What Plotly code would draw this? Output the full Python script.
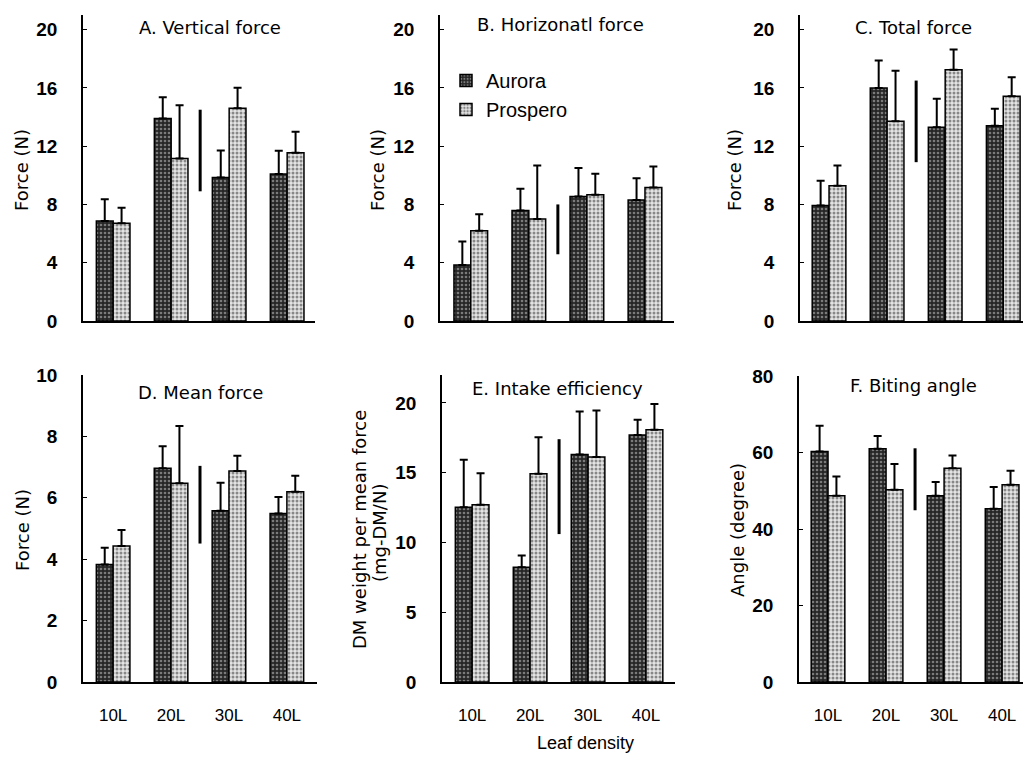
import plotly.graph_objects as go

categories = ["10L", "20L", "30L", "40L"]
x_idx = [0, 1, 2, 3]

panel_titles = ["A. Vertical force", "B. Horizonatl force", "C. Total force",
                "D. Mean force", "E. Intake efficiency", "F. Biting angle"]
y_titles = ["Force (N)", "Force (N)", "Force (N)", "Force (N)",
            "DM weight per mean force", "Angle (degree)"]
e_subtitle = "(mg-DM/N)"

# means and upper error (SD) for each panel
A_aurora = [6.86, 13.9, 9.85, 10.08]
A_aurora_sd = [1.5, 1.45, 1.85, 1.6]
A_prospero = [6.7, 11.15, 14.6, 11.54]
A_prospero_sd = [1.07, 3.65, 1.4, 1.44]
A_lsd = [8.9, 14.5]

B_aurora = [3.85, 7.58, 8.55, 8.3]
B_aurora_sd = [1.6, 1.49, 1.95, 1.5]
B_prospero = [6.2, 7.0, 8.66, 9.16]
B_prospero_sd = [1.13, 3.68, 1.44, 1.44]
B_lsd = [4.58, 8.0]

C_aurora = [7.93, 15.99, 13.3, 13.4]
C_aurora_sd = [1.69, 1.88, 1.96, 1.17]
C_prospero = [9.28, 13.7, 17.25, 15.42]
C_prospero_sd = [1.4, 3.48, 1.38, 1.3]
C_lsd = [10.9, 16.5]

D_aurora = [3.83, 6.96, 5.58, 5.49]
D_aurora_sd = [0.54, 0.72, 0.91, 0.54]
D_prospero = [4.43, 6.47, 6.87, 6.2]
D_prospero_sd = [0.52, 1.87, 0.5, 0.52]
D_lsd = [4.51, 7.04]

E_aurora = [12.53, 8.23, 16.3, 17.7]
E_aurora_sd = [3.39, 0.84, 3.08, 1.1]
E_prospero = [12.7, 14.92, 16.13, 18.07]
E_prospero_sd = [2.26, 2.62, 3.32, 1.86]
E_lsd = [10.6, 17.4]

F_aurora = [60.26, 60.96, 48.7, 45.3]
F_aurora_sd = [6.74, 3.34, 3.6, 5.66]
F_prospero = [48.7, 50.26, 55.9, 51.56]
F_prospero_sd = [5.0, 6.74, 3.3, 3.64]
F_lsd = [44.9, 61.1]

lsd_x = 1.5

y_ranges = [[0, 21], [0, 21], [0, 21], [0, 10], [0, 22], [0, 80]]
y_dticks = [4, 4, 4, 2, 5, 20]

panels = [
    (A_aurora, A_aurora_sd, A_prospero, A_prospero_sd, A_lsd),
    (B_aurora, B_aurora_sd, B_prospero, B_prospero_sd, B_lsd),
    (C_aurora, C_aurora_sd, C_prospero, C_prospero_sd, C_lsd),
    (D_aurora, D_aurora_sd, D_prospero, D_prospero_sd, D_lsd),
    (E_aurora, E_aurora_sd, E_prospero, E_prospero_sd, E_lsd),
    (F_aurora, F_aurora_sd, F_prospero, F_prospero_sd, F_lsd),
]

W, H = 1023, 761
# pixel boxes (left, right, top, bottom)
boxes = [
    (83, 315, 15, 321), (440, 674, 15, 321), (800, 1023, 15, 321),
    (83, 317, 375, 682), (442, 675, 375, 682), (799, 1023, 376, 682),
]
x_ranges = [[-0.52, 3.48], [-0.53, 3.5], [-0.5, 3.34],
            [-0.52, 3.52], [-0.52, 3.5], [-0.5, 3.36]]
title_centers = [(210, 27), (560, 25), (913, 27), (200, 392), (557, 389), (913, 385)]

FONT = "DejaVu Sans, Liberation Sans, Arial, sans-serif"
TICKFONT = "Liberation Sans, Arial, sans-serif"

fig = go.Figure()
layout = dict(
    width=W, height=H, autosize=False,
    margin=dict(l=0, r=0, t=0, b=0, pad=0, autoexpand=False),
    paper_bgcolor="white", plot_bgcolor="white",
    barmode="group", bargap=0.42, bargroupgap=0,
    font=dict(family=FONT, size=18, color="black"),
    legend=dict(x=446 / W, y=1 - 61 / H, xanchor="left", yanchor="top",
                font=dict(size=20, family=TICKFONT), bgcolor="rgba(0,0,0,0)",
                tracegroupgap=0, itemwidth=30),
    showlegend=True,
)

annotations = []
for i, (au, au_sd, pr, pr_sd, lsd) in enumerate(panels):
    n = i + 1
    xa = "x" if n == 1 else f"x{n}"
    ya = "y" if n == 1 else f"y{n}"
    l, r, t, b = boxes[i]
    fig.add_trace(go.Bar(
        x=x_idx, y=au, name="Aurora", xaxis=xa, yaxis=ya,
        offsetgroup="a", showlegend=(i == 0), legendgroup="Aurora",
        marker=dict(color="#3a3a3a", line=dict(color="black", width=1.5),
                    pattern=dict(shape=".", bgcolor="#262626", fgcolor="#d0d0d0",
                                 size=4, solidity=0.35)),
        error_y=dict(type="data", symmetric=False, array=au_sd,
                     arrayminus=[0] * len(au), color="black", thickness=2, width=4),
    ))
    fig.add_trace(go.Bar(
        x=x_idx, y=pr, name="Prospero", xaxis=xa, yaxis=ya,
        offsetgroup="p", showlegend=(i == 0), legendgroup="Prospero",
        marker=dict(color="#cccccc", line=dict(color="black", width=1.5),
                    pattern=dict(shape=".", bgcolor="#e4e4e4", fgcolor="#2a2a2a",
                                 size=4, solidity=0.45)),
        error_y=dict(type="data", symmetric=False, array=pr_sd,
                     arrayminus=[0] * len(pr), color="black", thickness=2, width=4),
    ))
    fig.add_trace(go.Scatter(
        x=[lsd_x, lsd_x], y=lsd, mode="lines", xaxis=xa, yaxis=ya,
        line=dict(color="black", width=3), showlegend=False, hoverinfo="skip",
    ))
    bottom_row = i >= 3
    layout["xaxis" if n == 1 else f"xaxis{n}"] = dict(
        domain=[l / W, min(r / W, 1.0)], range=x_ranges[i], automargin=False,
        anchor=ya, showline=True, linecolor="black", linewidth=1.5,
        showgrid=False, zeroline=False, ticks="",
        tickvals=x_idx, ticktext=categories, showticklabels=bottom_row,
        tickfont=dict(size=17, family=TICKFONT), ticklabelstandoff=17,
    )
    layout["yaxis" if n == 1 else f"yaxis{n}"] = dict(
        domain=[1 - b / H, 1 - t / H], range=y_ranges[i], dtick=y_dticks[i],
        tick0=0, anchor=xa, showline=True, linecolor="black", linewidth=1.5,
        automargin=False,
        showgrid=False, zeroline=False, ticks="inside", ticklen=4,
        tickcolor="black", tickwidth=1.2,
        tickfont=dict(size=19, weight="bold", family=TICKFONT),
        ticklabelstandoff=20,
    )
    cx, cy = title_centers[i]
    annotations.append(dict(
        text=panel_titles[i], xref="paper", yref="paper",
        x=cx / W, y=1 - cy / H, xanchor="center", yanchor="middle",
        showarrow=False, font=dict(size=18),
    ))

# y axis titles
ytitle_pos = [(22, 170), (378, 170), (735, 170), (22, 530), (359, 530), (737, 530)]
for i, (px, py) in enumerate(ytitle_pos):
    annotations.append(dict(
        text=y_titles[i], xref="paper", yref="paper", x=px / W, y=1 - py / H,
        xanchor="center", yanchor="middle", textangle=-90, showarrow=False,
        font=dict(size=18),
    ))
annotations.append(dict(
    text=e_subtitle, xref="paper", yref="paper", x=379 / W, y=1 - 533 / H,
    xanchor="center", yanchor="middle", textangle=-90, showarrow=False,
    font=dict(size=18),
))
annotations.append(dict(
    text="Leaf density", xref="paper", yref="paper", x=585 / W, y=1 - 743 / H,
    xanchor="center", yanchor="middle", showarrow=False,
    font=dict(size=18, family=TICKFONT),
))
layout["annotations"] = annotations
fig.update_layout(**layout)
fig.write_html("out.html", config={"displayModeBar": False, "responsive": False},
               post_script="document.body.style.margin='0';document.body.style.overflow='hidden';")
